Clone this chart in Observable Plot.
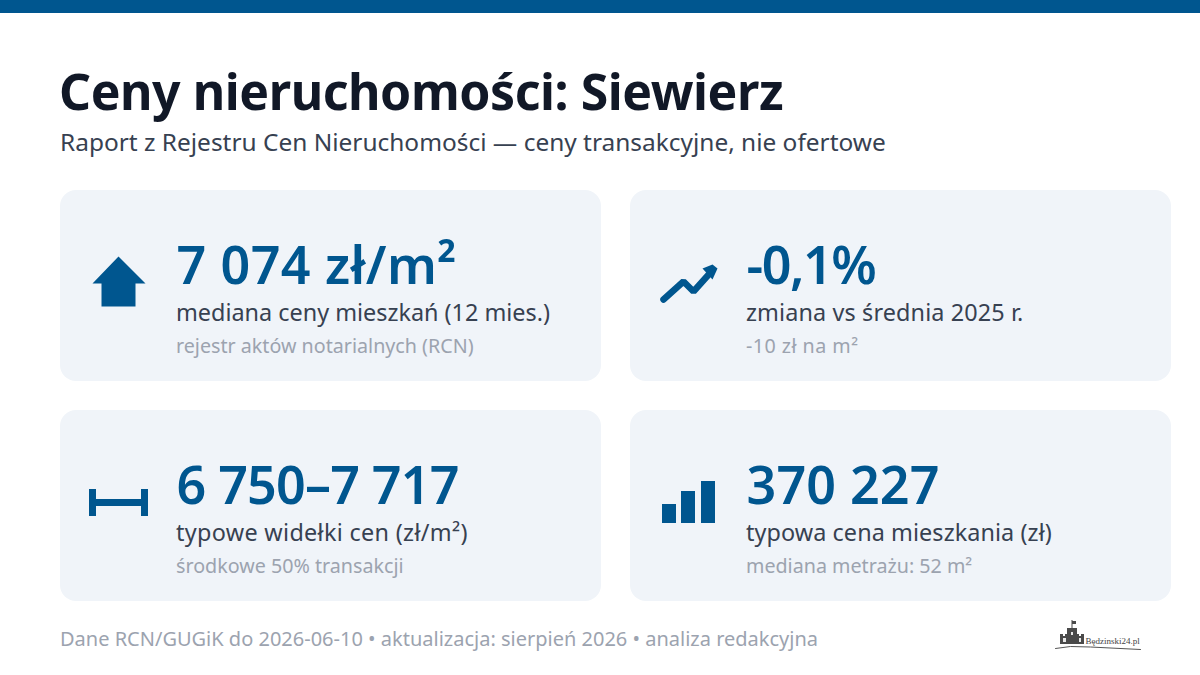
<!DOCTYPE html>
<html lang="pl">
<head>
<meta charset="utf-8">
<script src="https://cdn.jsdelivr.net/npm/d3@7"></script>
<script src="https://cdn.jsdelivr.net/npm/@observablehq/plot@0.6"></script>
<style>html,body{margin:0;padding:0;background:#fff}svg{display:block}</style>
</head>
<body>
<div id="chart"></div>
<script>
// ---- content ----
const reportTitle = "Ceny nieruchomości: Siewierz";
const reportSubtitle = "Raport z Rejestru Cen Nieruchomości — ceny transakcyjne, nie ofertowe";
const reportFooter = "Dane RCN/GUGiK do 2026-06-10 • aktualizacja: sierpień 2026 • analiza redakcyjna";
const logoText = "Będzinski24.pl";
const cardValues = ["7 074 zł/m²", "-0,1%", "6 750–7 717", "370 227"];
const cardLabels = ["mediana ceny mieszkań (12 mies.)", "zmiana vs średnia 2025 r.", "typowe widełki cen (zł/m²)", "typowa cena mieszkania (zł)"];
const cardNotes = ["rejestr aktów notarialnych (RCN)", "-10 zł na m²", "środkowe 50% transakcji", "mediana metrażu: 52 m²"];

// ---- layout and style ----
const FONT = "'Noto Sans', sans-serif";
const BLUE = "#00568f", CARD = "#f0f4f9", INK = "#111827", BODY = "#374151", MUTED = "#9ca3af";
const cols = [60, 630], rows = [190, 410];
const cards = cardValues.map((value, i) => ({
  value, label: cardLabels[i], note: cardNotes[i],
  x: cols[i % 2], y: rows[Math.floor(i / 2)]
}));
const shape = (ox, oy, pts) => pts.map(([a, b]) => ({x: ox + a, y: oy + b}));
const txt = (rowsData, o) => Plot.text(rowsData, {lineAnchor: "bottom", textAnchor: "start", fontFamily: FONT, ...o});
const poly = (pts) => Plot.line(pts, {x: "x", y: "y", fill: BLUE, stroke: "none", curve: "linear"});
// extra width (px) that matches each run of text to the reference's measure
const widthFit = new Map([
  [reportTitle, -12],
  [cardValues[0], 4], [cardValues[1], -6], [cardValues[2], -8], [cardValues[3], 1],
  [cardLabels[1], 3], [cardLabels[2], 8], [cardLabels[3], 2],
  [cardNotes[1], 5]
]);

const plot = Plot.plot({
  width: 1200, height: 675, margin: 0,
  style: {background: "#fff"},
  x: {domain: [0, 1200], range: [0, 1200], axis: null},
  y: {domain: [0, 675], range: [0, 675], axis: null},
  marks: [
    Plot.rect([{}], {x1: () => 0, x2: () => 1200, y1: () => 0, y2: () => 13, fill: BLUE}),
    txt([reportTitle], {text: d => d, x: () => 58.5, y: () => 109, fontSize: 50, fontWeight: 700, fill: INK}),
    txt([reportSubtitle], {text: d => d, x: () => 59.5, y: () => 150.5, fontSize: 24.45, fill: BODY}),
    Plot.rect(cards, {x1: d => d.x, x2: d => d.x + 541, y1: d => d.y, y2: d => d.y + 191, fill: CARD, rx: 16}),
    txt(cards, {text: "value", x: d => d.x + 116, y: d => d.y + 93, fontSize: 52, fontWeight: 600, fill: BLUE}),
    txt(cards, {text: "label", x: d => d.x + 115.5, y: d => d.y + 130.5, fontSize: 23.4, fill: BODY}),
    txt(cards, {text: "note", x: d => d.x + 115.5, y: d => d.y + 162, fontSize: 19.7, fill: MUTED}),
    // house icon
    poly(shape(60, 190, [[58, 66], [85, 93], [75, 93], [75, 116], [41, 116], [41, 93], [32, 93]])),
    // trend icon
    Plot.line(shape(630, 190, [[33, 109], [53, 91], [63, 101], [80, 82]]), {x: "x", y: "y", stroke: BLUE, strokeWidth: 6.5, strokeLinejoin: "miter", curve: "linear"}),
    poly(shape(630, 190, [[72, 78], [82, 74], [87, 78], [82, 89]])),
    // range icon
    Plot.rect([[29, 36, 299, 326], [81, 88, 299, 326], [36, 81, 309, 316]], {x1: d => 60 + d[0], x2: d => 60 + d[1], y1: d => 190 + d[2], y2: d => 190 + d[3], fill: BLUE}),
    // bars icon
    Plot.rect([[32, 46, 504], [51, 65, 491], [71, 85, 481]], {x1: d => 630 + d[0], x2: d => 630 + d[1], y1: d => d[2], y2: () => 523, fill: BLUE}),
    // footer
    txt([reportFooter], {text: d => d, x: () => 59.5, y: () => 645.5, fontSize: 20, fill: MUTED}),
    // logo
    Plot.rect([[1060, 1084, 636, 644], [1067, 1077, 628, 644], [1071.5, 1072.5, 620, 628], [1072, 1076, 621, 624], [1060, 1063, 634, 636], [1065, 1068, 634, 636], [1076, 1079, 634, 636], [1081, 1084, 634, 636]], {x1: d => d[0], x2: d => d[1], y1: d => d[2], y2: d => d[3], fill: "#4a4a4a"}),
    Plot.rect([[1063, 1066, 638, 642], [1071, 1073, 632, 635], [1079, 1081, 638, 642]], {x1: d => d[0], x2: d => d[1], y1: d => d[2], y2: d => d[3], fill: "#e8e8e8"}),
    Plot.line(shape(0, 0, [[1055, 648], [1070, 646], [1090, 646.5], [1140, 649]]), {x: "x", y: "y", stroke: "#555", strokeWidth: 1, curve: "linear"}),
    Plot.text([logoText], {text: d => d, x: () => 1085, y: () => 643, lineAnchor: "bottom", textAnchor: "start", fontFamily: "'Liberation Serif', serif", fontSize: 9, fill: "#444"})
  ]
});
document.getElementById("chart").append(plot);
d3.select(plot).selectAll("text").each(function () {
  const t = this.textContent, extra = widthFit.get(t);
  if (extra) this.style.letterSpacing = (extra / (t.length - 1)) + "px";
});
</script>
</body>
</html>
